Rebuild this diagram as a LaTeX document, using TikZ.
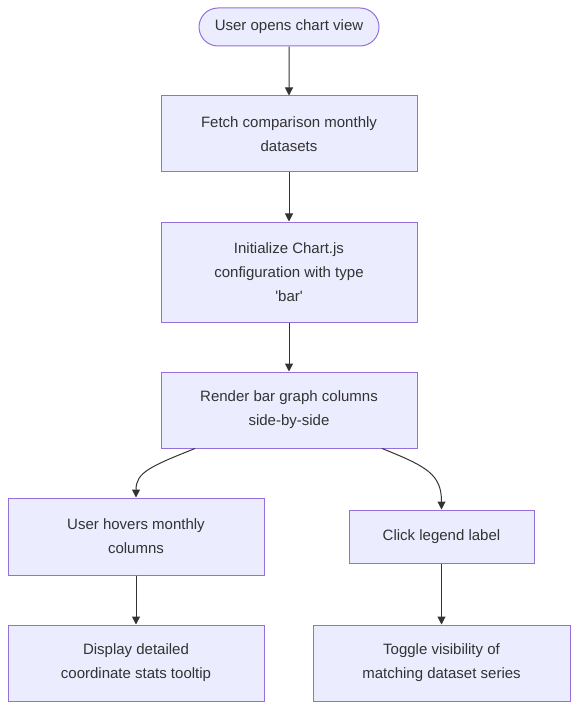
\documentclass[tikz,border=0pt]{standalone}
\usepackage{fontspec}
\setmainfont{Liberation Sans}[Ligatures=TeXOff]
\usetikzlibrary{arrows.meta,shapes.misc}
\definecolor{boxfill}{HTML}{ECECFF}
\definecolor{boxline}{HTML}{9370DB}
\definecolor{ink}{HTML}{333333}
\tikzset{
  stepbox/.style={draw=boxline,fill=boxfill,line width=1pt,text=ink,align=center,
    font=\fontsize{15}{24}\selectfont,inner sep=0pt},
  startbox/.style={stepbox,rounded rectangle,minimum width=180pt,minimum height=38pt},
  flow/.style={draw=ink,line width=1pt,-{Triangle[length=8pt,width=8pt]}}
}
\begin{document}
\begin{tikzpicture}[x=1pt,y=-1pt]
	\useasboundingbox (0,0) rectangle (586,719);
	\node[startbox] (start) at (289,27) {User opens chart view};
	\node[stepbox,minimum width=256pt,minimum height=76pt] (fetch) at (289,134) {Fetch comparison monthly\\datasets};
	\node[stepbox,minimum width=256pt,minimum height=100pt] (init) at (289,272) {Initialize Chart.js\\configuration with type\\'bar'};
	\node[stepbox,minimum width=256pt,minimum height=76pt] (render) at (289,410) {Render bar graph columns\\side-by-side};
	\node[stepbox,minimum width=256pt,minimum height=77pt] (hover) at (136,536.5) {User hovers monthly\\columns};
	\node[stepbox,minimum width=185pt,minimum height=53pt] (click) at (441.5,536.5) {Click legend label};
	\node[stepbox,minimum width=256pt,minimum height=76pt] (tooltip) at (136,663) {Display detailed\\coordinate stats tooltip};
	\node[stepbox,minimum width=257pt,minimum height=76pt] (toggle) at (441.5,663) {Toggle visibility of\\matching dataset series};
	\draw[flow] (start) -- (fetch);
	\draw[flow] (fetch) -- (init);
	\draw[flow] (init) -- (render);
	\draw[flow] ([xshift=-94pt]render.south) .. controls +(-45,18) and +(0,-25) .. (hover.north);
	\draw[flow] ([xshift=93pt]render.south) .. controls +(45,18) and +(0,-35) .. (click.north);
	\draw[flow] (hover) -- (tooltip);
	\draw[flow] (click) -- (toggle);
\end{tikzpicture}
\end{document}
